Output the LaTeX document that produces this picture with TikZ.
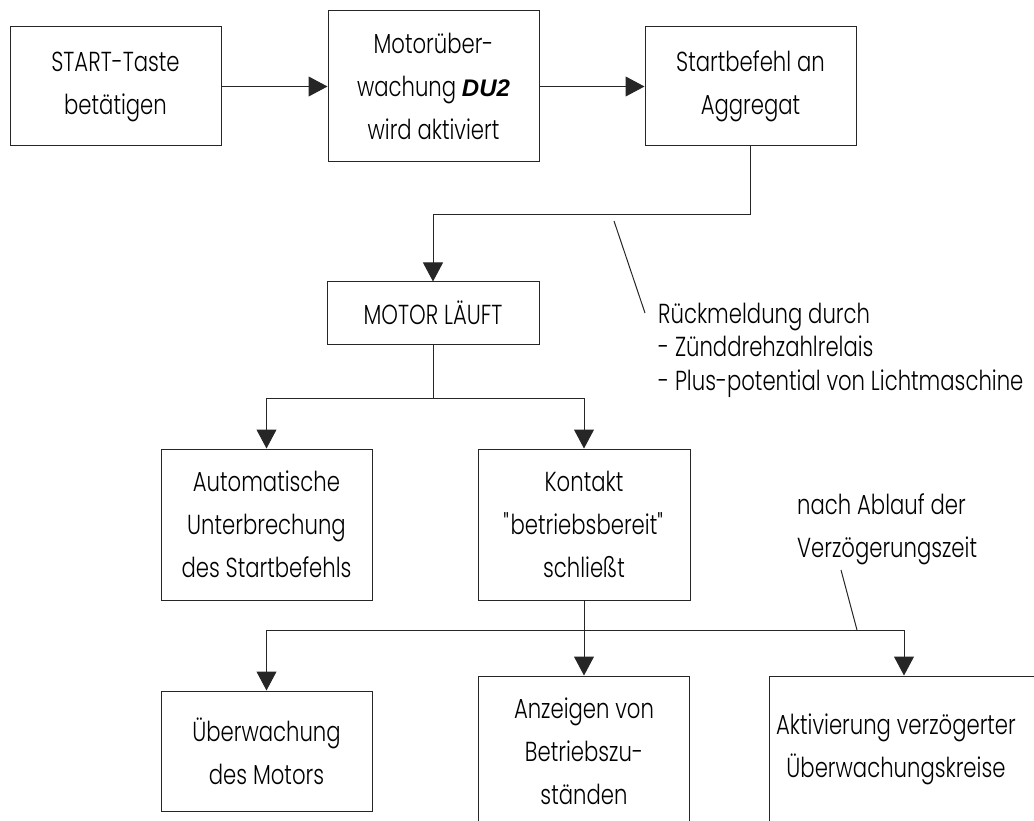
\documentclass[tikz,border=0pt]{standalone}
\usepackage{tikz}
\usepackage{fontspec}
\usetikzlibrary{arrows.meta}
\newfontfamily\probefont{Poppins Light}
\setbox0=\hbox{\probefont\fontsize{27.5}{27.5}\selectfont des Startbefehls}
\pgfmathsetmacro\fstretch{170/\wd0}
\edef\setupfont{\noexpand\setmainfont{Poppins Light}[FakeStretch=\fstretch]}
\setupfont
\newfontfamily\arialfont{Liberation Sans}
\newcommand\boxfont{\fontsize{27.5}{43}\selectfont}
\newcommand\notefont{\fontsize{27.5}{33.5}\selectfont}
\newcommand\notefontb{\fontsize{27.5}{43}\selectfont}
\newcommand\duzwei[1]{{\arialfont\bfseries\itshape\fontsize{24}{43}\selectfont #1}}
\tikzset{
  box/.style={draw=black!85, line width=1pt, minimum width=211pt, inner sep=0pt, align=center, font=\boxfont},
  arr/.style={draw=black!85, line width=1pt, -{Triangle[length=19pt,width=20pt]}},
  ln/.style={draw=black!85, line width=1pt},
  note/.style={align=left, inner sep=0pt, font=\notefont},
  noteb/.style={align=left, inner sep=0pt, font=\notefontb}
}
\begin{document}
\begin{tikzpicture}[x=1pt,y=-1pt]
\useasboundingbox (0,0) rectangle (1034,821);
% boxes
\node[box, minimum height=119pt] (start) at (115.5,86.5) {START-Taste\\betätigen};
\node[box, minimum height=151pt] (motor) at (433.5,86.5) {Motorüber-\\wachung \duzwei{DU2}\\wird aktiviert};
\node[box, minimum height=119pt] (befehl) at (750.5,86.5) {Startbefehl an\\Aggregat};
\node[box, minimum height=62pt, minimum width=212pt] (lauft) at (433,313) {MOTOR LÄUFT};
\node[box, minimum height=151pt] (auto) at (266.5,524.5) {Automatische\\Unterbrechung\\des Startbefehls};
\node[box, minimum height=151pt, minimum width=212pt] (kontakt) at (584,524.5) {Kontakt\\\textquotedbl betriebsbereit\textquotedbl\\schließt};
\node[box, minimum height=120pt] (ueber) at (266.5,751) {Überwachung\\des Motors};
\node[box, minimum height=151pt] (anzeigen) at (584,751.5) {Anzeigen von\\Betriebszu-\\ständen};
\node[box, minimum height=151pt, minimum width=270pt] (aktiv) at (904,751.5) {};
\node[align=center, inner sep=0pt, font=\boxfont] (aktivtext) at (896,749) {Aktivierung verzögerter\\Überwachungskreise};
% junctions
\coordinate (j1) at (433,215);
\coordinate (j2) at (433,398);
\coordinate (j3) at (584,630);
% connectors
\draw[arr] (start) -- (motor);
\draw[arr] (motor) -- (befehl);
\draw[arr] (befehl.south) |- (j1) -- (lauft.north);
\draw[ln] (lauft.south) -- (j2);
\draw[arr] (j2) -| (auto.north);
\draw[arr] (j2) -| (kontakt.north);
\draw[ln] (kontakt.south) -- (j3);
\draw[arr] (j3) -| (ueber.north);
\draw[arr] (j3) -- (anzeigen.north);
\draw[arr] (j3) -| (aktiv.north);
% annotations
\coordinate (l1a) at (614,221);
\coordinate (l1b) at (645,313);
\draw[ln] (l1a) -- (l1b);
\node[note, anchor=west] (rueck) at (658,350) {Rückmeldung durch\\- Zünddrehzahlrelais\\- Plus-potential von Lichtmaschine};
\coordinate (l2a) at (841,570);
\coordinate (l2b) at (857,630);
\draw[ln] (l2a) -- (l2b);
\node[noteb, anchor=west] (nach) at (797,529) {nach Ablauf der\\Verzögerungszeit};
\end{tikzpicture}
\end{document}
